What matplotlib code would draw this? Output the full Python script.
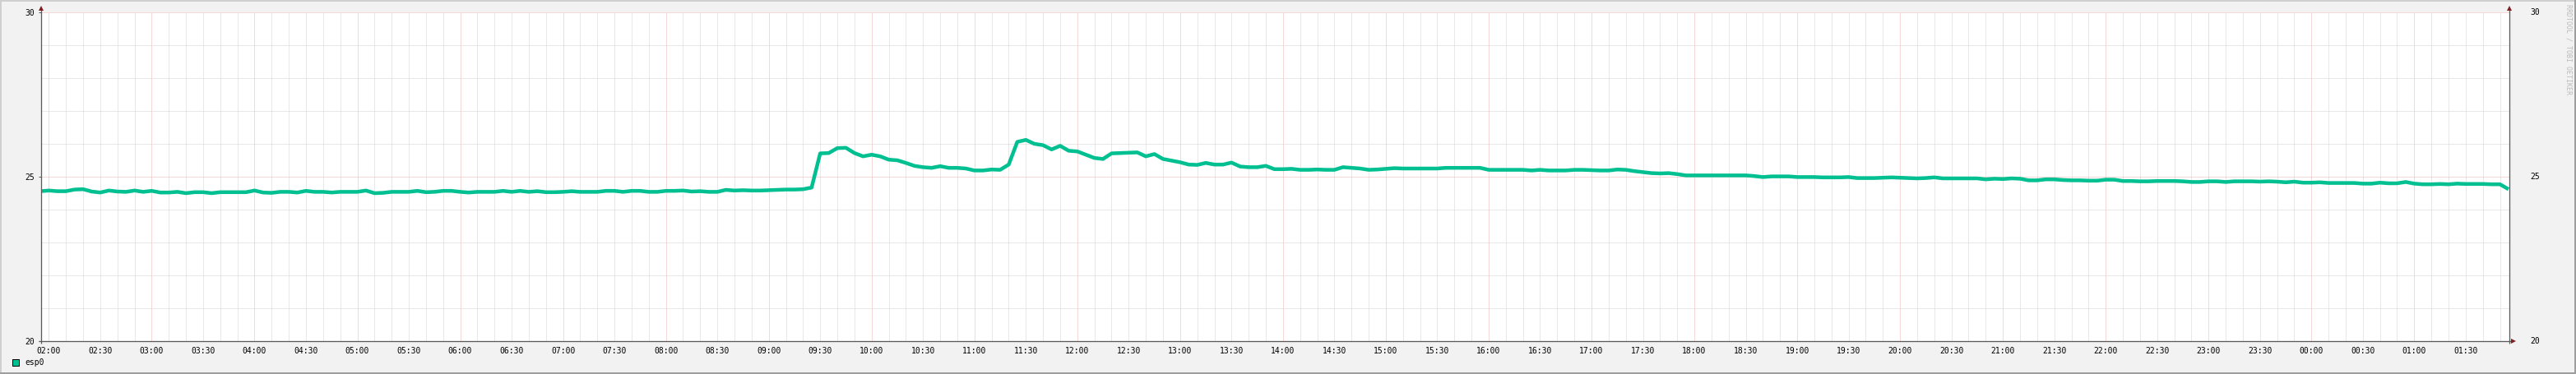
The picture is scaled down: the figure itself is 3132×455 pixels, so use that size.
import numpy as np
import matplotlib
matplotlib.use("Agg")
import matplotlib.pyplot as plt
from matplotlib.patches import Rectangle, Polygon
from matplotlib.lines import Line2D
from matplotlib.transforms import IdentityTransform, offset_copy

# ---------------- data ----------------
series_name = "esp0"
start_time = "01:55"      # time of first sample
step_minutes = 5
esp0 = (
    [24.56] +  # 01:55
    [24.58, 24.56, 24.56, 24.61, 24.62, 24.55, 24.52, 24.58, 24.55, 24.54, 24.58, 24.54] +  # 02
    [24.57, 24.52, 24.52, 24.54, 24.50, 24.53, 24.53, 24.50, 24.53, 24.53, 24.53, 24.53] +  # 03
    [24.58, 24.52, 24.51, 24.54, 24.54, 24.52, 24.57, 24.54, 24.54, 24.52, 24.54, 24.54] +  # 04
    [24.54, 24.58, 24.50, 24.51, 24.54, 24.54, 24.54, 24.57, 24.53, 24.54, 24.57, 24.57] +  # 05
    [24.54, 24.52, 24.54, 24.54, 24.54, 24.57, 24.54, 24.57, 24.54, 24.56, 24.53, 24.53] +  # 06
    [24.54, 24.56, 24.54, 24.54, 24.54, 24.57, 24.57, 24.54, 24.57, 24.57, 24.54, 24.54] +  # 07
    [24.57, 24.57, 24.58, 24.55, 24.56, 24.54, 24.54, 24.60, 24.58, 24.59, 24.58, 24.58] +  # 08
    [24.59, 24.60, 24.61, 24.61, 24.62, 24.67, 25.71, 25.72, 25.87, 25.88, 25.72, 25.62] +  # 09
    [25.67, 25.62, 25.52, 25.50, 25.42, 25.33, 25.29, 25.27, 25.32, 25.27, 25.27, 25.25] +  # 10
    [25.19, 25.19, 25.22, 25.21, 25.37, 26.06, 26.12, 26.00, 25.96, 25.83, 25.94, 25.79] +  # 11
    [25.77, 25.67, 25.57, 25.54, 25.71, 25.72, 25.73, 25.74, 25.62, 25.69, 25.54, 25.49] +  # 12
    [25.44, 25.37, 25.36, 25.42, 25.37, 25.37, 25.43, 25.31, 25.29, 25.29, 25.33, 25.23] +  # 13
    [25.23, 25.24, 25.21, 25.21, 25.22, 25.21, 25.21, 25.29, 25.27, 25.25, 25.21, 25.22] +  # 14
    [25.24, 25.26, 25.25, 25.25, 25.25, 25.25, 25.25, 25.27, 25.27, 25.27, 25.27, 25.27] +  # 15
    [25.21, 25.21, 25.21, 25.21, 25.21, 25.19, 25.21, 25.19, 25.19, 25.19, 25.21, 25.21] +  # 16
    [25.20, 25.19, 25.19, 25.22, 25.21, 25.17, 25.14, 25.11, 25.10, 25.11, 25.08, 25.04] +  # 17
    [25.04, 25.04, 25.04, 25.04, 25.04, 25.04, 25.04, 25.02, 24.99, 25.01, 25.01, 25.01] +  # 18
    [24.99, 24.99, 24.99, 24.98, 24.98, 24.98, 24.99, 24.96, 24.96, 24.96, 24.97, 24.98] +  # 19
    [24.97, 24.96, 24.95, 24.96, 24.98, 24.95, 24.95, 24.95, 24.95, 24.95, 24.92, 24.94] +  # 20
    [24.93, 24.95, 24.94, 24.89, 24.89, 24.92, 24.92, 24.90, 24.89, 24.89, 24.88, 24.88] +  # 21
    [24.91, 24.91, 24.87, 24.87, 24.86, 24.86, 24.87, 24.87, 24.87, 24.86, 24.84, 24.84] +  # 22
    [24.86, 24.86, 24.84, 24.86, 24.86, 24.86, 24.85, 24.86, 24.85, 24.83, 24.85, 24.82] +  # 23
    [24.82, 24.83, 24.81, 24.81, 24.81, 24.81, 24.79, 24.79, 24.82, 24.80, 24.80, 24.84] +  # 00
    [24.79, 24.77, 24.77, 24.78, 24.77, 24.79, 24.78, 24.78, 24.78, 24.77, 24.77, 24.62]    # 01
)
ytick_values = [20, 25, 30]
ytick_labels = ["20", "25", "30"]
xtick_labels = [
    "02:00", "02:30", "03:00", "03:30", "04:00", "04:30", "05:00", "05:30",
    "06:00", "06:30", "07:00", "07:30", "08:00", "08:30", "09:00", "09:30",
    "10:00", "10:30", "11:00", "11:30", "12:00", "12:30", "13:00", "13:30",
    "14:00", "14:30", "15:00", "15:30", "16:00", "16:30", "17:00", "17:30",
    "18:00", "18:30", "19:00", "19:30", "20:00", "20:30", "21:00", "21:30",
    "22:00", "22:30", "23:00", "23:30", "00:00", "00:30", "01:00", "01:30",
]
watermark = "RRDTOOL / TOBI OETIKER"

# ---------------- style ----------------
W, H, DPI = 3132, 455, 100
BACK = "#F2F2F2"
SHADEA = "#CFCFCF"
SHADEB = "#9E9E9E"
GRID = "#D2D2D2"
MGRID = "#EDB2B2"
ARROW = "#7F1F1F"
AXIS = "#5A5A5A"
LINE = "#00BF91"
MONO = "DejaVu Sans Mono"
PX = 72.0 / DPI  # one pixel in points

fig = plt.figure(figsize=(W / DPI, H / DPI), dpi=DPI, facecolor=BACK)
L, R, T, B = 50, 3051, 15, 415
ax = fig.add_axes([L / W, 1 - B / H, (R - L) / W, (B - T) / H])
ax.set_facecolor("white")

h0, m0 = (int(s) for s in start_time.split(":"))
t = h0 + m0 / 60 + np.arange(len(esp0)) * step_minutes / 60.0
x0 = 1 + 55.5 / 60
x1 = x0 + 24
ax.set_xlim(x0, x1)
ax.set_ylim(20, 30)

# grid
dash = dict(linewidth=PX, dashes=(1, 1), zorder=1)
for v in np.arange(np.ceil(x0 * 6) / 6, x1, 1 / 6):
    is_major = abs(v - round(v)) < 1e-6
    ax.axvline(v, color=MGRID if is_major else GRID, **dash)
for v in range(21, 31):
    ax.axhline(v, color=MGRID if v % 5 == 0 else GRID, **dash)

ax.plot(t, esp0, color=LINE, linewidth=4.5 * PX, solid_joinstyle="round",
        solid_capstyle="butt", zorder=3)

for s in ax.spines.values():
    s.set_visible(False)

xt = 2 + 0.5 * np.arange(len(xtick_labels))
ax.set_xticks(xt, xtick_labels)
ax.set_yticks(ytick_values, ytick_labels)
ax.tick_params(axis="x", length=0, pad=5.2, labelsize=7)
ax.tick_params(axis="y", length=2, width=PX, color=AXIS, pad=3.5, labelsize=7)
for lab in ax.get_xticklabels() + ax.get_yticklabels():
    lab.set_family(MONO)

# right axis labels
rtrans = offset_copy(ax.get_yaxis_transform(), fig=fig, x=25, y=0, units="dots")
for v, lab in zip(ytick_values, ytick_labels):
    ax.text(1, v, lab, transform=rtrans, ha="left", va="center",
            fontsize=7, family=MONO, color="black")

# axes lines and arrows in pixel coordinates
I = IdentityTransform()
def P(x, y):
    return (x, H - y)

def pline(xs, ys, color, lw):
    fig.add_artist(Line2D(xs, [H - y for y in ys], transform=I, color=color,
                          linewidth=lw, solid_capstyle="butt", zorder=5))

pline([L, L], [B + 3, 12], AXIS, 1.3 * PX)
pline([R, R], [B + 3, 12], AXIS, 1.3 * PX)
pline([L - 3, R + 3], [B, B], AXIS, 1.3 * PX)
for tri in (
    [P(L, 7), P(L - 3, 13), P(L + 3, 13)],
    [P(R, 7), P(R - 3, 13), P(R + 3, 13)],
    [P(R + 8, B), P(R + 2, B - 3), P(R + 2, B + 3)],
):
    fig.add_artist(Polygon(tri, closed=True, transform=I, facecolor=ARROW,
                           edgecolor="none", zorder=6))

# frame shading
fig.add_artist(Rectangle((0, H - 2), W, 2, transform=I, facecolor=SHADEA, edgecolor="none"))
fig.add_artist(Rectangle((0, 0), 2, H, transform=I, facecolor=SHADEA, edgecolor="none"))
fig.add_artist(Rectangle((0, 0), W, 2, transform=I, facecolor=SHADEB, edgecolor="none"))
fig.add_artist(Rectangle((W - 2, 0), 2, H, transform=I, facecolor=SHADEB, edgecolor="none"))

# legend
fig.add_artist(Rectangle(P(15, 445), 8, 8, transform=I, facecolor=LINE,
                         edgecolor="black", linewidth=PX))
fig.text(30 / W, 1 - 441 / H, series_name, ha="left", va="center",
         fontsize=7, family=MONO, color="black")

# watermark
fig.text(3123 / W, 1 - 5 / H, watermark, ha="center", va="top", rotation=270,
         fontsize=6, family=MONO, color="#BBBBBB")

fig.savefig("out.png", dpi=DPI, facecolor=BACK)
